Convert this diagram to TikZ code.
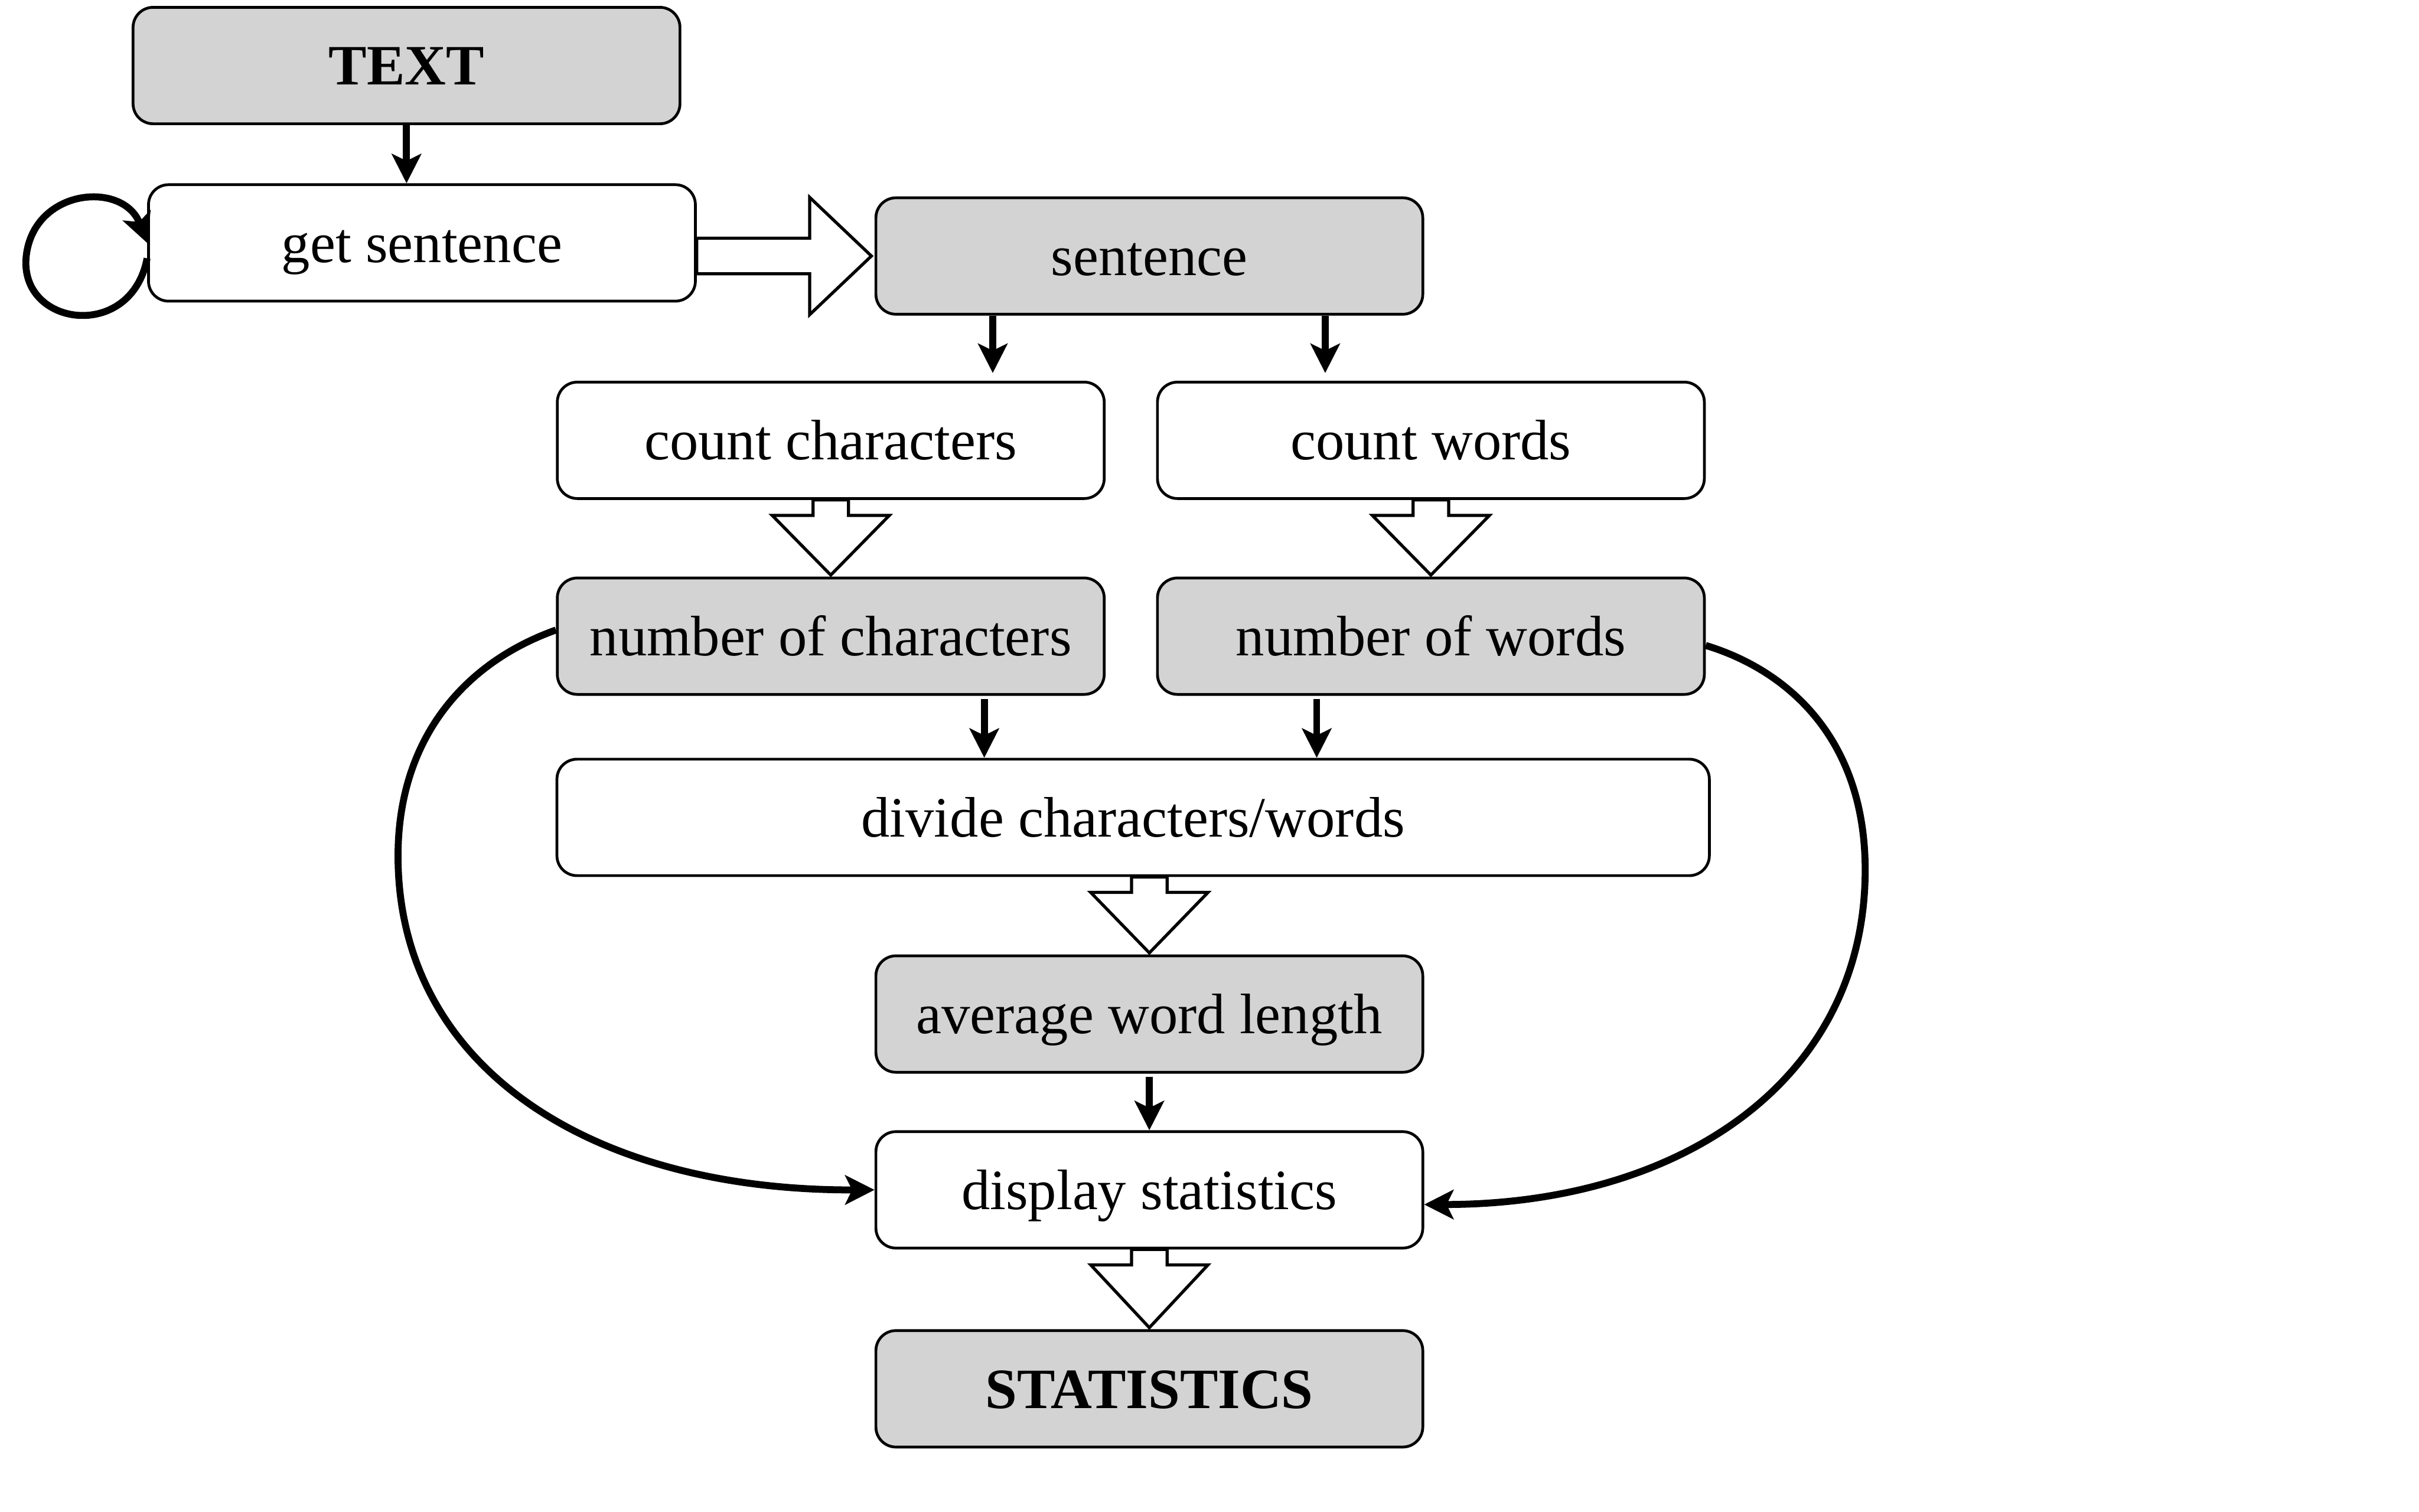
\documentclass[tikz,border=0pt]{standalone}
\usepackage{fontspec}
\setmainfont{Liberation Serif}
\usetikzlibrary{arrows.meta,calc}
\definecolor{boxgray}{RGB}{211,211,211}
\begin{document}
\begin{tikzpicture}[x=1pt,y=-1pt,
  box/.style={draw, line width=1.8pt, rounded corners=13pt, minimum width=354.5pt,
    minimum height=75.5pt, inner sep=0pt, font=\fontsize{37}{44}\selectfont,
    text height=33pt, text depth=8pt},
  gbox/.style={box, fill=boxgray},
  wbox/.style={box, fill=white},
  arr/.style={line width=4.5pt, -{Stealth[length=19pt,width=19pt,inset=4.5pt]}},
  hollow/.style={draw, fill=white, line width=2pt, line join=miter},
]
\useasboundingbox (0,0) rectangle (1568,980);

\node[gbox] (text) at (263.5,42.5) {\textbf{TEXT}};
\node[wbox] (gs) at (273.5,157.5) {get sentence};
\node[gbox] (sent) at (745,166) {sentence};
\node[wbox] (cc) at (538.5,285.5) {count characters};
\node[wbox] (cw) at (927.5,285.5) {count words};
\node[gbox] (nc) at (538.5,412.5) {number of characters};
\node[gbox] (nw) at (927.5,412.5) {number of words};
\node[wbox, minimum width=747pt] (div) at (734.5,530) {divide characters/words};
\node[gbox] (avg) at (745,657.5) {average word length};
\node[wbox] (disp) at (745,771.5) {display statistics};
\node[gbox] (stat) at (745,900.5) {\textbf{STATISTICS}};

% small black arrows
\draw[arr] (text.south) -- (text.south |- gs.north);
\draw[arr] ([xshift=-101.5pt]sent.south) -- ([xshift=-101.5pt,yshift=5pt]sent.south |- cc.north);
\draw[arr] ([xshift=114pt]sent.south) -- ([xshift=114pt,yshift=5pt]sent.south |- cw.north);
\draw[arr] ([xshift=99.5pt,yshift=-2pt]nc.south) -- ([xshift=99.5pt]nc.south |- div.north);
\draw[arr] ([xshift=-74pt,yshift=-2pt]nw.south) -- ([xshift=-74pt]nw.south |- div.north);
\draw[arr] ([yshift=-2pt]avg.south) -- (disp.north);

% hollow arrows
\draw[hollow] ($(gs.east |- sent.west)+(0,-11.5)$) -- ($(sent.west)+(-42,-11.5)$)
  -- ++(0,-26.5) -- ([xshift=-2pt]sent.west) -- ($(sent.west)+(-42,38)$) -- ++(0,-26.5)
  -- ($(gs.east |- sent.west)+(0,11.5)$) -- cycle;
\foreach \s/\t in {cc/nc, cw/nw, div/avg, disp/stat}{
  \draw[hollow] ($(\t.north |- \s.south)+(-11.5,0)$) -- ++(0,10) -- ++(-26.5,0)
    -- ([yshift=1pt]\t.north) -- ($(\t.north |- \s.south)+(38,10)$) -- ++(-26.5,0)
    -- ++(0,-10) -- cycle;
}

% loop on get sentence
\draw[arr] ([yshift=-10pt]gs.west) .. controls (85,222) and (12,212) .. (17,166)
  .. controls (22,122) and (80,117) .. (gs.west);

% long curves
\draw[arr] ([yshift=4pt]nc.west) .. controls (300,430) and (258,480) .. (258,555)
  .. controls (258,690) and (380,772) .. (disp.west);
\draw[arr] ([yshift=-6pt]nw.east) .. controls (1160,435) and (1209,480) .. (1209,564)
  .. controls (1209,700) and (1090,781) .. ([yshift=-9.5pt]disp.east);
\end{tikzpicture}
\end{document}
